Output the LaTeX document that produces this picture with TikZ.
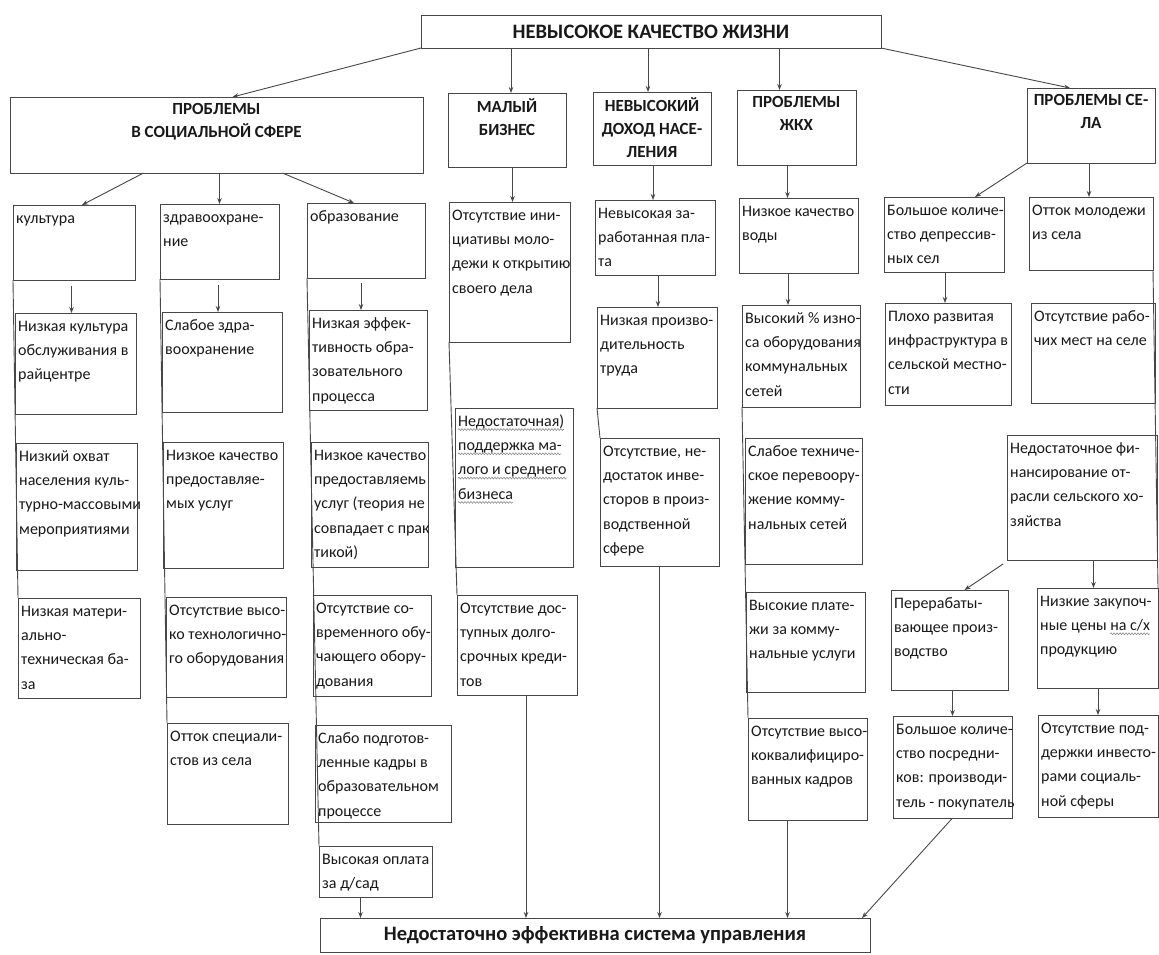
\documentclass[tikz,border=0pt]{standalone}
\usepackage{fontspec}
\setmainfont{Carlito}
\usetikzlibrary{arrows.meta,calc,decorations.pathmorphing}
\newlength\wva\newlength\wvb\newlength\wvc\newlength\wvd\newlength\wve\newlength\wvf
\newcommand\bodyfont{\fontsize{16}{24.3}\selectfont}
\newcommand\mybox[6]{%
  \node[bx,minimum width={(#4-#2)*1pt},minimum height={(#5-#3)*1pt}] (#1) at (#2,#3) {};
  \node[tx] (#1-t) at ([xshift=3pt,yshift=-6pt]#1.north west) {\rule{0pt}{12pt}#6};}
\newcommand\myhead[6]{%
  \node[bx,minimum width={(#4-#2)*1pt},minimum height={(#5-#3)*1pt}] (#1) at (#2,#3) {};
  \node[hd] (#1-t) at ([yshift=-5pt]#1.north) {\rule{0pt}{12pt}#6};}
\begin{document}
\settowidth\wva{\bodyfont Недостаточная)}%
\settowidth\wvb{\bodyfont поддержка ма-}%
\settowidth\wvc{\bodyfont лого и среднего}%
\settowidth\wvd{\bodyfont бизнеса}%
\settowidth\wve{\bodyfont ные цены }%
\settowidth\wvf{\bodyfont на с/х}%
\begin{tikzpicture}[x=1pt,y=-1pt,
  bx/.style={draw=black!72, line width=1pt, inner sep=0pt, outer sep=0pt, anchor=north west},
  tx/.style={inner sep=0pt, anchor=north west, align=left, text=black!90, font=\bodyfont},
  hd/.style={inner sep=0pt, anchor=north, align=center, text=black!90, font=\bfseries\fontsize{17}{23}\selectfont},
  ttl/.style={inner sep=0pt, text=black!90, font=\bfseries\fontsize{20.5}{24}\selectfont},
  ar/.style={draw=black!72, line width=0.9pt, -{Stealth[length=6pt,width=4.5pt]}},
  ln/.style={draw=black!72, line width=0.9pt},
  wavy/.style={draw=black!45, line width=0.6pt, decorate, decoration={snake, amplitude=0.9pt, segment length=3pt}}]
\fill[white] (0,0) rectangle (1159,954);
\useasboundingbox (0,0) rectangle (1159,954);

% title
\node[bx,minimum width=460pt,minimum height=33pt] (top) at (421,15) {};
\node[ttl] (top-t) at (top.center) {НЕВЫСОКОЕ КАЧЕСТВО ЖИЗНИ};

% second row
\myhead{soc}{10}{97}{423}{173}{ПРОБЛЕМЫ\\В СОЦИАЛЬНОЙ СФЕРЕ}
\myhead{mb}{448}{93}{566}{167}{МАЛЫЙ\\БИЗНЕС}
\myhead{inc}{593}{92}{711}{165}{НЕВЫСОКИЙ\\ДОХОД НАСЕ-\\ЛЕНИЯ}
\myhead{zkh}{737}{90}{856}{165}{ПРОБЛЕМЫ\\ЖКХ}
\myhead{sela}{1027}{88}{1155}{163}{ПРОБЛЕМЫ СЕ-\\ЛА}

% column: culture
\mybox{kul}{13}{205}{135}{280}{культура}
\mybox{nkc}{15}{313}{136}{414}{Низкая культура\\обслуживания в\\райцентре}
\mybox{nox}{16}{443}{137}{570}{Низкий охват\\населения куль-\\турно-массовыми\\мероприятиями}
\mybox{nmb}{18}{598}{140}{698}{Низкая матери-\\ально-\\техническая ба-\\за}

% column: health
\mybox{zdr}{160}{204}{279}{279}{здравоохране-\\ние}
\mybox{sz}{162}{312}{282}{412}{Слабое здра-\\воохранение}
\mybox{nku}{163}{442}{283}{568}{Низкое качество\\предоставляе-\\мых услуг}
\mybox{ovo}{166}{597}{286}{697}{Отсутствие высо-\\ко технологично-\\го оборудования}
\mybox{ots}{167}{723}{288}{824}{Отток специали-\\стов из села}

% column: education
\mybox{obr}{307}{203}{425}{278}{образование}
\mybox{nef}{309}{310}{427}{410}{Низкая эффек-\\тивность обра-\\зовательного\\процесса}
\mybox{nkp}{311}{442}{428}{567}{Низкое качество\\предоставляемь\\услуг (теория не\\совпадает с прак\\тикой)}
\mybox{oso}{313}{595}{431}{696}{Отсутствие со-\\временного обу-\\чающего обору-\\дования}
\mybox{spk}{315}{725}{451}{822}{Слабо подготов-\\ленные кадры в\\образовательном\\процессе}
\mybox{vop}{319}{846}{432}{897}{Высокая оплата\\за д/сад}

% column: small business
\mybox{oi}{449}{202}{570}{342}{Отсутствие ини-\\циативы моло-\\дежи к открытию\\своего дела}
\mybox{nps}{455}{408}{573}{567}{Недостаточная)\\поддержка ма-\\лого и среднего\\бизнеса}
\mybox{odk}{457}{595}{577}{695}{Отсутствие дос-\\тупных долго-\\срочных креди-\\тов}

% column: income
\mybox{nz}{595}{200}{715}{275}{Невысокая за-\\работанная пла-\\та}
\mybox{np}{597}{307}{717}{408}{Низкая произво-\\дительность\\труда}
\mybox{on}{600}{438}{719}{566}{Отсутствие, не-\\достаток инве-\\сторов в произ-\\водственной\\сфере}

% column: housing
\mybox{nkv}{739}{198}{858}{273}{Низкое качество\\воды}
\mybox{vi}{742}{305}{860}{407}{Высокий \% изно-\\са оборудования\\коммунальных\\сетей}
\mybox{st}{745}{438}{862}{564}{Слабое техниче-\\ское перевоору-\\жение комму-\\нальных сетей}
\mybox{vp}{746}{592}{865}{692}{Высокие плате-\\жи за комму-\\нальные услуги}
\mybox{kk}{748}{718}{867}{820}{Отсутствие высо-\\коквалифициро-\\ванных кадров}

% column: village
\mybox{bk}{884}{197}{1004}{272}{Большое количе-\\ство депрессив-\\ных сел}
\mybox{pr}{885}{303}{1011}{405}{Плохо развитая\\инфраструктура в\\сельской местно-\\сти}
\mybox{om}{1029}{197}{1153}{270}{Отток молодежи\\из села}
\mybox{orm}{1031}{303}{1155}{403}{Отсутствие рабо-\\чих мест на селе}
\mybox{nf}{1007}{435}{1157}{560}{Недостаточное фи-\\нансирование от-\\расли сельского хо-\\зяйства}
\mybox{per}{891}{590}{1008}{690}{Перерабаты-\\вающее произ-\\водство}
\mybox{nzc}{1037}{588}{1158}{688}{Низкие закупоч-\\ные цены на с/х\\продукцию}
\mybox{bp}{893}{716}{1012}{818}{Большое количе-\\ство посредни-\\ков: производи-\\тель - покупатель}
\mybox{op}{1038}{715}{1158}{817}{Отсутствие под-\\держки инвесто-\\рами социаль-\\ной сферы}

% spell-check wavy underlines
\draw[wavy] ([yshift=-15.5pt]nps-t.north west) -- ++(\wva,0pt);
\draw[wavy] ([yshift=-39.8pt]nps-t.north west) -- ++(\wvb,0pt);
\draw[wavy] ([yshift=-64.1pt]nps-t.north west) -- ++(\wvc,0pt);
\draw[wavy] ([yshift=-88.4pt]nps-t.north west) -- ++(\wvd,0pt);
\draw[wavy] ([xshift=\wve,yshift=-39.8pt]nzc-t.north west) -- ++(\wvf,0pt);

% bottom
\node[bx,minimum width=550pt,minimum height=34pt] (bot) at (320,918) {};
\node[ttl] (bot-t) at (bot.center) {Недостаточно эффективна система управления};

% column side lines
\draw[ln] (kul.south west) -- (nmb.north west);
\draw[ln] (zdr.south west) -- (ots.north west);
\draw[ln] (obr.south west) -- (vop.north west);
\draw[ln] (oi.south west) -- (odk.north west);
\draw[ln] (np.south west) -- (on.north west);
\draw[ln] (vi.south west) -- (kk.north west);
\draw[ln] (om.south east) -- (nzc.north east);

% arrows from title
\draw[ar] (top.south west) -- ([xshift=16pt]soc.north);
\draw[ar] ([xshift=4pt]mb.north |- top.south) -- ([xshift=4pt]mb.north);
\draw[ar] ([xshift=-4pt]inc.north |- top.south) -- ([xshift=-4pt]inc.north);
\draw[ar] ([xshift=-17pt]zkh.north |- top.south) -- ([xshift=-17pt]zkh.north);
\draw[ar] (top.south east) -- ([xshift=-21pt]sela.north);

% arrows from second row
\draw[ar] ([xshift=-73pt]soc.south) -- ([xshift=8pt]kul.north);
\draw[ar] (zdr.north |- soc.south) -- (zdr.north);
\draw[ar] ([xshift=66pt]soc.south) -- ([xshift=-12pt]obr.north);
\draw[ar] ([xshift=3pt]oi.north |- mb.south) -- ([xshift=3pt]oi.north);
\draw[ar] ([xshift=-2pt]nz.north |- inc.south) -- ([xshift=-2pt]nz.north);
\draw[ar] ([xshift=-11pt]nkv.north |- zkh.south) -- ([xshift=-11pt]nkv.north);
\draw[ar] (sela.south west) -- ([xshift=31pt]bk.north);
\draw[ar] ([xshift=-2pt]om.north |- sela.south) -- ([xshift=-2pt]om.north);

% short arrows
\draw[ar] ([xshift=-4pt,yshift=-6pt]nkc.north |- kul.south) -- ([xshift=-4pt]nkc.north);
\draw[ar] ([xshift=-4pt,yshift=-6pt]sz.north |- zdr.south) -- ([xshift=-4pt]sz.north);
\draw[ar] ([xshift=-7pt,yshift=-5pt]nef.north |- obr.south) -- ([xshift=-7pt]nef.north);
\draw[ar] ([xshift=1pt]np.north |- nz.south) -- ([xshift=1pt]np.north);
\draw[ar] ([xshift=-13pt]vi.north |- nkv.south) -- ([xshift=-13pt]vi.north);
\draw[ar] ([xshift=-3pt]pr.north |- bk.south) -- ([xshift=-3pt]pr.north);
\draw[ar] ([xshift=-4pt,yshift=-4pt]nf.south west) -- ([xshift=15pt]per.north);
\draw[ar] ([xshift=-4pt]nzc.north |- nf.south) -- ([xshift=-4pt]nzc.north);
\draw[ar] (bp.north |- per.south) -- (bp.north);
\draw[ar] (op.north |- nzc.south) -- (op.north);

% arrows to bottom
\draw[ar] ([xshift=-15pt]vop.south) -- ([xshift=-15pt]vop.south |- bot.north);
\draw[ar] ([xshift=9pt]odk.south) -- ([xshift=9pt]odk.south |- bot.north);
\draw[ar] (on.south) -- (on.south |- bot.north);
\draw[ar] ([xshift=-20pt]kk.south) -- ([xshift=-20pt]kk.south |- bot.north);
\draw[ar] (bp.south) -- ([xshift=-8pt]bot.north east);
\end{tikzpicture}
\end{document}
